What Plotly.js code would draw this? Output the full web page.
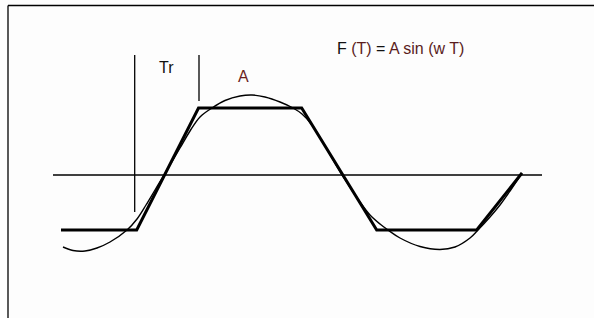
<!DOCTYPE html>
<html>
<head>
<meta charset="utf-8">
<script src="https://cdn.plot.ly/plotly-3.0.1.min.js"></script>
<style>
  html, body { margin: 0; padding: 0; background: #fdfdfd; }
  #chart { width: 594px; height: 318px; }
</style>
</head>
<body>
<div id="chart"></div>
<script>
// Hand-drawn sine wave F(T) = A sin(wT) (time, amplitude)
const sineT = [63, 73, 85, 97, 110, 127, 137, 146, 155, 164, 180, 190, 200, 212, 225, 240, 252, 265, 280, 293, 302, 312, 325, 342, 360, 370, 380, 388, 400, 420, 440, 455, 470, 478, 490, 500, 510, 522];
const sineA = [-72, -75.5, -76, -73, -67, -55, -44, -30, -15, 0, 27, 44, 58, 67, 74.5, 79, 80, 78, 73, 67, 61, 50, 29, 0, -27, -40, -49, -55, -63, -71.5, -74.5, -72, -63, -55, -42, -30, -16, 2];

// Trapezoidal approximation (thick line)
const trapT = [61, 136.7, 198.5, 301.7, 376.7, 476.7, 522];
const trapA = [-55, -55, 67, 67, -55, -55, 2];

// Horizontal zero axis
const axisT = [53, 542];
const axisA = [0, 0];

// Rise time (Tr) markers
const trStartT = [134.7, 134.7];
const trStartA = [120, -37];
const trEndT = [199, 199];
const trEndA = [120, 74];

const traces = [
  { x: axisT, y: axisA, mode: 'lines', line: { color: '#000', width: 1.7 }, hoverinfo: 'skip' },
  { x: trStartT, y: trStartA, mode: 'lines', line: { color: '#000', width: 1.3 }, hoverinfo: 'skip' },
  { x: trEndT, y: trEndA, mode: 'lines', line: { color: '#000', width: 1.3 }, hoverinfo: 'skip' },
  { x: sineT, y: sineA, mode: 'lines', line: { color: '#000', width: 1.4, shape: 'spline', smoothing: 1 }, hoverinfo: 'skip' },
  { x: trapT, y: trapA, mode: 'lines', line: { color: '#000', width: 3 }, hoverinfo: 'skip' }
];

const layout = {
  width: 594, height: 318,
  margin: { l: 0, r: 0, t: 0, b: 0 },
  paper_bgcolor: '#fdfdfd',
  plot_bgcolor: '#fdfdfd',
  showlegend: false,
  xaxis: { range: [0, 594], visible: false, fixedrange: true },
  yaxis: { range: [-143, 175], visible: false, fixedrange: true },
  font: { family: 'Liberation Sans, Arial, sans-serif', size: 16, color: '#111' },
  shapes: [
    { type: 'line', xref: 'paper', yref: 'paper', x0: 8/594, x1: 1, y0: 1 - 5.5/318, y1: 1 - 5.5/318, line: { color: '#000', width: 1.3 } },
    { type: 'line', xref: 'paper', yref: 'paper', x0: 8/594, x1: 8/594, y0: 0, y1: 1 - 5.5/318, line: { color: '#000', width: 1.3 } }
  ],
  annotations: [
    { x: 400, y: 127, xref: 'x', yref: 'y', showarrow: false,
      text: '<span style="color:#111">F</span> <span style="color:#5a1c1c">(T)</span> = <span style="color:#5a1c1c">A sin (w T)</span>',
      font: { size: 16 } },
    { x: 166.5, y: 107.5, xref: 'x', yref: 'y', showarrow: false, text: 'Tr', font: { size: 16, color: '#111' } },
    { x: 243, y: 99, xref: 'x', yref: 'y', showarrow: false, text: 'A', font: { size: 16, color: '#6a1f1f' } }
  ]
};

Plotly.newPlot('chart', traces, layout, { displayModeBar: false, staticPlot: true });
</script>
</body>
</html>
